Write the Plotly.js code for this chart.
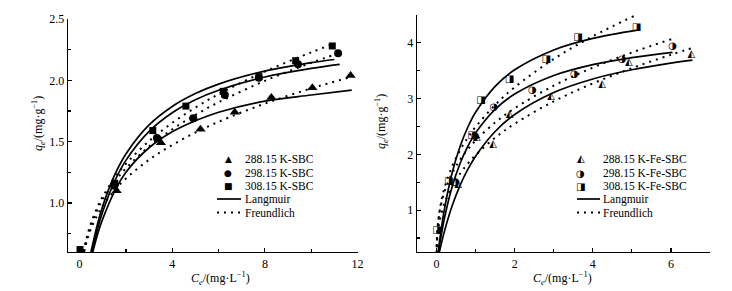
<!DOCTYPE html>
<html><head><meta charset="utf-8">
<script src="https://cdn.plot.ly/plotly-3.0.1.min.js"></script>
<style>html,body{margin:0;padding:0;background:#fff}#plot{width:732px;height:291px}</style>
</head><body><div id="plot"></div>
<script>
// ---------- Left panel: K-SBC, experimental points ----------
const ceK288 = [1.60, 3.51, 5.22, 6.70, 8.28, 10.05, 11.70];
const qeK288 = [1.10, 1.49, 1.60, 1.74, 1.86, 1.94, 2.04];
const ceK298 = [1.50, 3.34, 4.91, 6.27, 7.74, 9.43, 11.16];
const qeK298 = [1.14, 1.53, 1.69, 1.88, 2.02, 2.13, 2.22];
const ceK308 = [0.02, 1.52, 3.16, 4.59, 6.20, 7.74, 9.33, 10.91];
const qeK308 = [0.62, 1.16, 1.59, 1.79, 1.91, 2.03, 2.16, 2.28];

// Left panel curves (Langmuir solid, Freundlich dotted)
const lgK288x = [0.57, 0.8, 1, 1.5, 2, 3, 4, 5, 6, 8, 10, 11.75];
const lgK288y = [0.60, 0.76, 0.87, 1.09, 1.25, 1.45, 1.58, 1.67, 1.74, 1.83, 1.88, 1.92];
const lgK298x = [0.53, 0.8, 1, 1.5, 2, 3, 4, 5, 6, 8, 10, 11.23];
const lgK298y = [0.60, 0.806, 0.93, 1.172, 1.347, 1.583, 1.735, 1.841, 1.919, 2.027, 2.097, 2.13];
const lgK308x = [0.49, 0.8, 1, 1.5, 2, 3, 4, 5, 6, 8, 10, 11.0];
const lgK308y = [0.60, 0.847, 0.975, 1.222, 1.399, 1.636, 1.787, 1.892, 1.969, 2.075, 2.144, 2.17];
const frK288x = [0.2, 0.3, 0.5, 0.8, 1, 1.5, 2, 3, 4, 5, 6, 8, 10, 11.6];
const frK288y = [0.605, 0.683, 0.794, 0.913, 0.976, 1.101, 1.199, 1.352, 1.473, 1.574, 1.662, 1.81, 1.934, 2.021];
const frK298x = [0.19, 0.3, 0.5, 0.8, 1, 1.5, 2, 3, 4, 5, 6, 8, 10, 11.1];
const frK298y = [0.605, 0.70, 0.824, 0.957, 1.028, 1.17, 1.282, 1.46, 1.60, 1.718, 1.821, 1.996, 2.143, 2.215];
const frK308x = [0.18, 0.3, 0.5, 0.8, 1, 1.5, 2, 3, 4, 5, 6, 8, 10, 10.9];
const frK308y = [0.601, 0.71, 0.839, 0.978, 1.052, 1.201, 1.319, 1.505, 1.653, 1.778, 1.887, 2.072, 2.228, 2.292];

// ---------- Right panel: K-Fe-SBC, experimental points ----------
const ceF288 = [0.55, 1.03, 1.45, 1.87, 2.93, 4.24, 4.92, 6.52];
const qeF288 = [1.46, 2.31, 2.17, 2.72, 3.03, 3.26, 3.64, 3.80];
const ceF298 = [0.49, 0.99, 1.47, 2.45, 3.53, 4.75, 6.04];
const qeF298 = [1.49, 2.32, 2.85, 3.15, 3.44, 3.71, 3.93];
const ceF308 = [0.01, 0.31, 0.91, 1.14, 1.87, 2.81, 3.62, 5.12];
const qeF308 = [0.63, 1.52, 2.34, 2.96, 3.35, 3.71, 4.09, 4.27];

const lgF288x = [0.074, 0.2, 0.4, 0.6, 0.8, 1, 1.5, 2, 3, 4, 5, 6, 6.55];
const lgF288y = [0.25, 0.615, 1.078, 1.44, 1.73, 1.968, 2.411, 2.716, 3.11, 3.353, 3.518, 3.637, 3.69];
const lgF298x = [0.05, 0.2, 0.4, 0.6, 0.8, 1, 1.5, 2, 3, 4, 5, 6.04];
const lgF298y = [0.25, 0.849, 1.422, 1.833, 2.143, 2.386, 2.809, 3.082, 3.415, 3.61, 3.737, 3.831];
const lgF308x = [0.04, 0.2, 0.4, 0.6, 0.8, 1, 1.5, 2, 3, 4, 5.14];
const lgF308y = [0.25, 1.01, 1.672, 2.139, 2.487, 2.756, 3.221, 3.517, 3.873, 4.08, 4.23];
const frF288x = [0.002, 0.01, 0.03, 0.06, 0.1, 0.2, 0.4, 0.6, 0.8, 1, 1.5, 2, 3, 4, 5, 6, 6.6];
const frF288y = [0.212, 0.379, 0.562, 0.722, 0.867, 1.113, 1.429, 1.653, 1.834, 1.987, 2.30, 2.55, 2.951, 3.273, 3.547, 3.787, 3.92];
const frF298x = [0.001, 0.01, 0.03, 0.06, 0.1, 0.2, 0.4, 0.6, 0.8, 1, 1.5, 2, 3, 4, 5, 6.03];
const frF298y = [0.23, 0.492, 0.707, 0.889, 1.052, 1.323, 1.663, 1.901, 2.09, 2.25, 2.572, 2.828, 3.233, 3.555, 3.827, 4.071];
const frF308x = [0.001, 0.01, 0.03, 0.06, 0.1, 0.2, 0.4, 0.6, 0.8, 1, 1.5, 2, 3, 4, 5.05];
const frF308y = [0.204, 0.47, 0.70, 0.90, 1.083, 1.392, 1.789, 2.072, 2.30, 2.493, 2.887, 3.204, 3.71, 4.118, 4.48];

// legend labels and axis titles
const legendLeft = ['288.15 K-SBC', '298.15 K-SBC', '308.15 K-SBC', 'Langmuir', 'Freundlich'];
const legendRight = ['288.15 K-Fe-SBC', '298.15 K-Fe-SBC', '308.15 K-Fe-SBC', 'Langmuir', 'Freundlich'];
const glyphLeft = ['▲', '●', '■'];
const glyphRight = ['◭', '◑', '◨'];
const xTitleText = '<i>C<sub>e</sub></i>/(mg·L<sup>−1</sup>)';
const yTitleText = '<i>q<sub>e</sub></i>/(mg·g<sup>−1</sup>)';

const SERIF = 'Liberation Serif, Times New Roman, serif';
const solid = {color: '#000', width: 1.7, shape: 'spline', smoothing: 1};
const dotted = {color: '#000', width: 2, dash: '2px,5px', shape: 'spline', smoothing: 1};

function lineTrace(x, y, style, xa, ya) {
  return {x: x, y: y, mode: 'lines', line: style, xaxis: xa, yaxis: ya, showlegend: false, hoverinfo: 'skip'};
}
function markTrace(x, y, sym, size, xa, ya) {
  return {x: x, y: y, mode: 'markers', marker: {symbol: sym, size: size, color: '#000', line: {width: 0}},
          xaxis: xa, yaxis: ya, showlegend: false, cliponaxis: true};
}
function glyphTrace(x, y, g, xa, ya) {
  return {x: x, y: y, mode: 'text', text: x.map(() => g), textposition: 'middle center',
          textfont: {family: 'DejaVu Sans', size: 10, color: '#000'}, xaxis: xa, yaxis: ya, showlegend: false, cliponaxis: true};
}

const data = [
  lineTrace(lgK288x, lgK288y, solid, 'x', 'y'),
  lineTrace(lgK298x, lgK298y, solid, 'x', 'y'),
  lineTrace(lgK308x, lgK308y, solid, 'x', 'y'),
  lineTrace(frK288x, frK288y, dotted, 'x', 'y'),
  lineTrace(frK298x, frK298y, dotted, 'x', 'y'),
  lineTrace(frK308x, frK308y, dotted, 'x', 'y'),
  markTrace(ceK288, qeK288, 'triangle-up', 9, 'x', 'y'),
  markTrace(ceK298, qeK298, 'circle', 8, 'x', 'y'),
  markTrace(ceK308, qeK308, 'square', 7, 'x', 'y'),
  lineTrace(lgF288x, lgF288y, solid, 'x2', 'y2'),
  lineTrace(lgF298x, lgF298y, solid, 'x2', 'y2'),
  lineTrace(lgF308x, lgF308y, solid, 'x2', 'y2'),
  lineTrace(frF288x, frF288y, dotted, 'x2', 'y2'),
  lineTrace(frF298x, frF298y, dotted, 'x2', 'y2'),
  lineTrace(frF308x, frF308y, dotted, 'x2', 'y2'),
  glyphTrace(ceF288, qeF288, glyphRight[0], 'x2', 'y2'),
  glyphTrace(ceF298, qeF298, glyphRight[1], 'x2', 'y2'),
  glyphTrace(ceF308, qeF308, glyphRight[2], 'x2', 'y2')
];

const W = 732, H = 291, ML = 68, MR = 22, MT = 15, MB = 39;
const PW = W - ML - MR, PH = H - MT - MB;
const px = v => (v - ML) / PW;
const py = v => (H - MB - v) / PH;

const axBase = {
  showline: true, linecolor: '#000', linewidth: 1.3, mirror: false, showgrid: false, zeroline: false,
  ticks: 'inside', ticklen: 4, tickwidth: 1.2, tickcolor: '#000',
  tickfont: {family: SERIF, size: 12, color: '#000'},
  minor: {ticks: 'inside', ticklen: 3, tickwidth: 1.2, tickcolor: '#000', showgrid: false}
};

const layout = {
  width: W, height: H, margin: {l: ML, r: MR, t: MT, b: MB},
  paper_bgcolor: '#fff', plot_bgcolor: '#fff', showlegend: false,
  xaxis: Object.assign({}, axBase, {domain: [0, px(358)], range: [-0.5, 12.02], tickmode: 'linear', tick0: 0, dtick: 4,
    minor: Object.assign({}, axBase.minor, {dtick: 2, tick0: 0}), anchor: 'y'}),
  yaxis: Object.assign({}, axBase, {domain: [0, py(19)], range: [0.6, 2.5], tickmode: 'linear', tick0: 0, dtick: 0.5, tickformat: '.1f',
    minor: Object.assign({}, axBase.minor, {dtick: 0.25, tick0: 0}), anchor: 'x'}),
  xaxis2: Object.assign({}, axBase, {domain: [px(417), 1], range: [-0.5, 7], tickmode: 'linear', tick0: 0, dtick: 2,
    minor: Object.assign({}, axBase.minor, {dtick: 1, tick0: 0}), anchor: 'y2'}),
  yaxis2: Object.assign({}, axBase, {domain: [0, 1], range: [0.25, 4.5], tickmode: 'linear', tick0: 0, dtick: 1,
    minor: Object.assign({}, axBase.minor, {dtick: 0.5, tick0: 0}), anchor: 'x2'}),
  annotations: [], shapes: []
};

// axis titles placed as in the reference
const titleFont = {family: SERIF, size: 12, color: '#000'};
layout.annotations.push({xref: 'paper', yref: 'paper', x: px(220), y: py(278), xanchor: 'center', yanchor: 'middle', text: xTitleText, showarrow: false, font: titleFont});
layout.annotations.push({xref: 'paper', yref: 'paper', x: px(562), y: py(278), xanchor: 'center', yanchor: 'middle', text: xTitleText, showarrow: false, font: titleFont});
layout.annotations.push({xref: 'paper', yref: 'paper', x: px(38), y: py(124), xanchor: 'center', yanchor: 'middle', textangle: -90, text: yTitleText, showarrow: false, font: titleFont});
layout.annotations.push({xref: 'paper', yref: 'paper', x: px(381), y: py(122), xanchor: 'center', yanchor: 'middle', textangle: -90, text: yTitleText, showarrow: false, font: titleFont});

function addLegend(markX, textX, lineX0, lineX1, rows, labels, glyphs, glyphFont, glyphSize) {
  for (let i = 0; i < 5; i++) {
    layout.annotations.push({xref: 'paper', yref: 'paper', x: px(textX), y: py(rows[i]), xanchor: 'left', yanchor: 'middle',
      text: labels[i], showarrow: false, font: {family: SERIF, size: 11.5, color: '#000'}});
  }
  for (let i = 0; i < 3; i++) {
    layout.annotations.push({xref: 'paper', yref: 'paper', x: px(markX), y: py(rows[i]), xanchor: 'center', yanchor: 'middle',
      text: glyphs[i], showarrow: false, font: {family: glyphFont, size: glyphSize, color: '#000'}});
  }
  layout.shapes.push({type: 'line', xref: 'paper', yref: 'paper', x0: px(lineX0), x1: px(lineX1), y0: py(rows[3]), y1: py(rows[3]),
    line: {color: '#000', width: 1.7}});
  layout.shapes.push({type: 'line', xref: 'paper', yref: 'paper', x0: px(lineX0), x1: px(lineX1), y0: py(rows[4]), y1: py(rows[4]),
    line: {color: '#000', width: 2, dash: '2px,5px'}});
}
addLegend(228, 243, 217, 241, [158.5, 172.5, 185.5, 199, 212.5], legendLeft, glyphLeft, 'DejaVu Sans', 9);
addLegend(580.5, 601, 577, 600, [158.5, 173, 186, 199, 212.5], legendRight, glyphRight, 'DejaVu Sans', 10);

Plotly.newPlot('plot', data, layout, {staticPlot: true, displayModeBar: false});
</script></body></html>
